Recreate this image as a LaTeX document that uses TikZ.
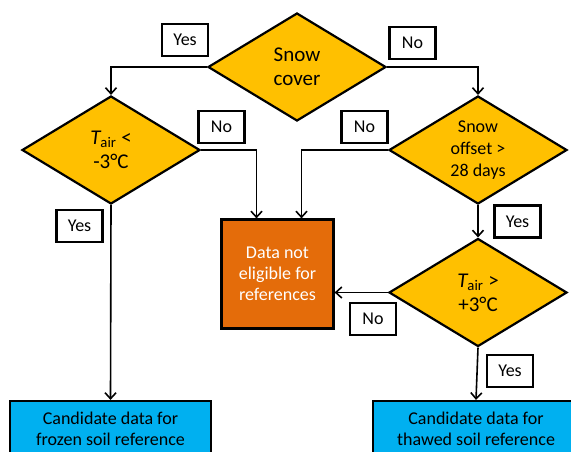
\documentclass[tikz,border=0pt]{standalone}
\usepackage{fontspec}
\setmainfont{Carlito}
\usetikzlibrary{arrows.meta}
\usetikzlibrary{shapes.geometric}

\definecolor{decgold}{HTML}{FFC000}
\definecolor{rejorange}{HTML}{E46C0A}
\definecolor{candblue}{HTML}{00B0F0}

\begin{document}
\begin{tikzpicture}[x=1pt, y=-1pt,
	decision/.style={diamond, aspect=1.65, draw, line width=2.2pt, fill=decgold, minimum width=178pt, minimum height=108pt, inner sep=0pt, align=center, font=\fontsize{21}{24}\selectfont},
	answer/.style={draw, line width=2.2pt, fill=white, minimum width=46pt, minimum height=32pt, inner sep=0pt, font=\fontsize{18}{22}\selectfont},
	outcome/.style={draw, line width=2.2pt, align=center, inner sep=0pt, font=\fontsize{18}{21}\selectfont},
	flow/.style={line width=1.6pt, -{Straight Barb[length=6pt,width=11pt]}}]

	% page frame
	\path[use as bounding box, fill=white] (0,0) rectangle (571,451);

	% decision diamonds
	\node[decision] (snow) at (297,67) {Snow\\cover};
	\node[decision] (tairlt) at (111,150) {{\itshape T}\textsubscript{air} <\\-3°C};
	\node[decision, font=\fontsize{18}{22}\selectfont] (offset) at (478,150) {Snow\\offset >\\28 days};
	\node[decision] (tairgt) at (478,292.5) {{\itshape T}\textsubscript{air} >\\+3°C};

	% outcome boxes
	\node[outcome, fill=rejorange, text=white, minimum width=112pt, minimum height=109pt] (notelig) at (277.5,274) {Data not\\eligible for\\references};
	\node[outcome, fill=candblue, minimum width=201pt, minimum height=56pt] (frozen) at (110.5,429) {Candidate data for\\frozen soil reference};
	\node[outcome, fill=candblue, minimum width=206pt, minimum height=56pt] (thawed) at (476,429) {Candidate data for\\thawed soil reference};

	% Arrows
	\draw[flow] (snow.west) -| (tairlt.north);
	\draw[flow] (snow.east) -| (offset.north);
	\draw[flow] (tairlt.east) -| ([xshift=-21pt]notelig.north);
	\draw[flow] (offset.west) -| ([xshift=24pt]notelig.north);
	\draw[flow] (offset.south) -- (tairgt.north);
	\draw[flow] (tairgt.west) -- (tairgt.west -| notelig.east);
	\draw[flow] (tairlt.south) -- (frozen.north);
	\draw[flow] (tairgt.south) -- (thawed.north);

	% Yes / No labels
	\node[answer] (yes1) at (185,40) {Yes};
	\node[answer] (no1) at (412.5,43) {No};
	\node[answer] (no2) at (221.5,127) {No};
	\node[answer] (yes2) at (79.5,226) {Yes};
	\node[answer] (no3) at (364.5,127) {No};
	\node[answer] (yes3) at (517.5,221.5) {Yes};
	\node[answer] (no4) at (373,319) {No};
	\node[answer] (yes4) at (510,371) {Yes};
\end{tikzpicture}
\end{document}
